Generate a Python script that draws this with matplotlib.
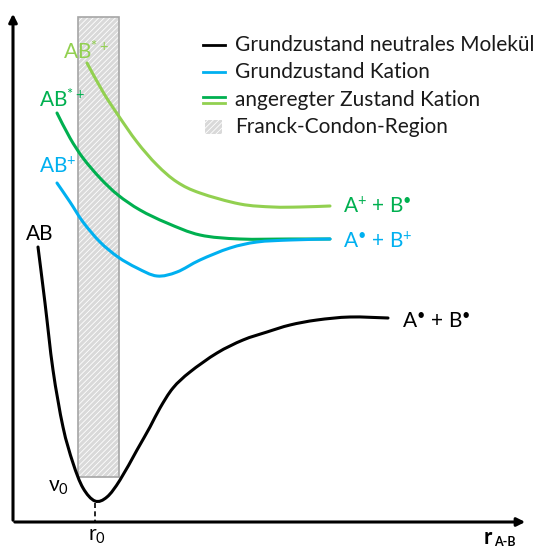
import matplotlib
matplotlib.use('Agg')
import matplotlib.pyplot as plt
import numpy as np
from matplotlib.patches import Rectangle, PathPatch
from matplotlib.path import Path

plt.rcParams['font.family'] = ['Lato', 'DejaVu Sans']
plt.rcParams['mathtext.fontset'] = 'custom'
plt.rcParams['mathtext.rm'] = 'Lato'
plt.rcParams['mathtext.it'] = 'Lato:italic'
plt.rcParams['mathtext.bf'] = 'Lato:bold'
plt.rcParams['hatch.linewidth'] = 0.6

BLACK = '#000000'
BLUE = '#00b0f0'
DGREEN = '#00b050'
LGREEN = '#92d050'

# potential curves (x = r, y = energy, screen units, y grows downwards)
r_neutral = [38, 45, 53, 63, 73, 83, 95, 107, 120, 137, 150, 160, 173, 190, 217, 243, 267, 290, 317, 350, 388]
e_neutral = [247, 303, 370, 427, 463, 488, 501, 497, 480, 450, 427, 408, 388, 372, 353, 340, 332, 325, 320, 317, 318]

r_cation = [57, 70, 83, 100, 118, 137, 157, 177, 200, 230, 257, 290, 330]
e_cation = [183, 202, 222, 242, 257, 268, 276, 272, 260, 248, 242, 240, 239]

r_exc1 = [57, 70, 83, 100, 118, 140, 167, 200, 240, 290, 330]
e_exc1 = [113, 138, 158, 178, 195, 210, 223, 235, 239, 239, 239]

r_exc2 = [87, 103, 118, 137, 157, 177, 200, 240, 273, 300, 330]
e_exc2 = [63, 92, 115, 142, 165, 182, 193, 204, 207, 207, 206]

legend_labels = ['Grundzustand neutrales Molekül', 'Grundzustand Kation',
                 'angeregter Zustand Kation', 'Franck-Condon-Region']


def smooth_curve(ax, xs, ys, **kw):
    # Catmull-Rom through the read points, drawn as cubic Bezier path
    P = np.column_stack([xs, ys]).astype(float)
    n = len(P)
    verts = [P[0]]
    codes = [Path.MOVETO]
    for i in range(n - 1):
        p0 = P[i - 1] if i > 0 else P[i]
        p1 = P[i]
        p2 = P[i + 1]
        p3 = P[i + 2] if i + 2 < n else P[i + 1]
        verts += [p1 + (p2 - p0) / 6, p2 - (p3 - p1) / 6, p2]
        codes += [Path.CURVE4] * 3
    ax.add_patch(PathPatch(Path(verts, codes), fill=False, capstyle='round', **kw))


fig = plt.figure(figsize=(5.35, 5.52), dpi=100)
ax = fig.add_axes([0, 0, 1, 1])
ax.set_xlim(0, 535)
ax.set_ylim(552, 0)
ax.axis('off')

# Franck-Condon region
ax.add_patch(Rectangle((78, 17), 41, 460, facecolor='#d9d9d9', edgecolor='white',
                       hatch='//////', lw=0, zorder=1))
ax.add_patch(Rectangle((78, 17), 41, 460, fill=False, edgecolor='#a6a6a6', lw=1.2, zorder=2))

# axes arrows
ax.annotate('', xy=(13, 11), xytext=(13, 523),
            arrowprops=dict(arrowstyle='-|>', color='black', lw=2.2, mutation_scale=12))
ax.annotate('', xy=(528, 522), xytext=(12, 522),
            arrowprops=dict(arrowstyle='-|>', color='black', lw=2.2, mutation_scale=12))
ax.plot([95, 95], [503, 521], color='black', lw=1.2, ls=(0, (3, 2)))

smooth_curve(ax, r_exc2, e_exc2, edgecolor=LGREEN, lw=2.2, zorder=3)
smooth_curve(ax, r_exc1, e_exc1, edgecolor=DGREEN, lw=2.2, zorder=3)
smooth_curve(ax, r_cation, e_cation, edgecolor=BLUE, lw=2.2, zorder=3)
smooth_curve(ax, r_neutral, e_neutral, edgecolor=BLACK, lw=2.2, zorder=3)

fs = 15
ax.text(40, 234, 'AB', color=BLACK, fontsize=fs, ha='center', va='center')
ax.text(58, 167, r'AB$^{+}$', color=BLUE, fontsize=fs, ha='center', va='center')
ax.text(62, 100, r'AB$^{*+}$', color=DGREEN, fontsize=fs, ha='center', va='center')
ax.text(86, 52, r'AB$^{*+}$', color=LGREEN, fontsize=fs, ha='center', va='center')
ax.text(343, 207, r'A$^{+}$ + B$^{•}$', color=DGREEN, fontsize=fs, ha='left', va='center')
ax.text(343, 242, r'A$^{•}$ + B$^{+}$', color=BLUE, fontsize=fs, ha='left', va='center')
ax.text(402, 322, r'A$^{•}$ + B$^{•}$', color=BLACK, fontsize=fs, ha='left', va='center')
ax.text(59, 487, r'$\mathregular{ν_0}$', fontsize=fs, ha='center', va='center')
ax.text(97, 536, r'$\mathregular{r_0}$', fontsize=fs, ha='center', va='center')
ax.text(492, 538, 'r', fontsize=16, fontweight='bold', ha='right', va='center')
ax.text(494, 542, 'A-B', fontsize=9, fontweight='bold', ha='left', va='center')

# legend
rows = [45, 72, 100, 127]
ax.plot([203, 225], [rows[0]] * 2, color=BLACK, lw=2)
ax.plot([203, 225], [rows[1]] * 2, color=BLUE, lw=2)
ax.plot([203, 225], [rows[2] - 3] * 2, color=DGREEN, lw=2)
ax.plot([203, 225], [rows[2] + 3] * 2, color=LGREEN, lw=2)
ax.add_patch(Rectangle((205, rows[3] - 7), 17, 14, facecolor='#d9d9d9', edgecolor='white',
                       hatch='//////', lw=0))
for y, lab in zip(rows, legend_labels):
    ax.text(235, y, lab, fontsize=fs, ha='left', va='center', color='#1a1a1a')

fig.savefig('out.png', dpi=100)
